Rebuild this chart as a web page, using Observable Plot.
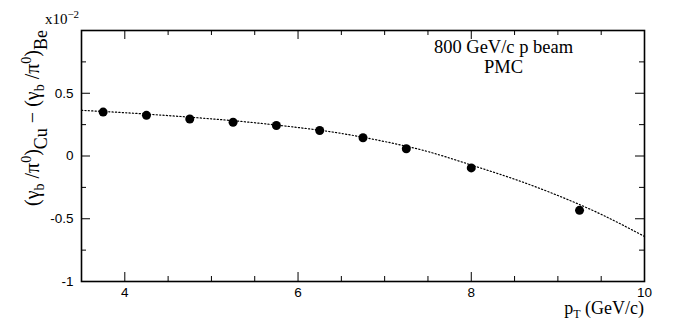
<!DOCTYPE html>
<html>
<head>
<meta charset="utf-8">
<script src="https://cdn.jsdelivr.net/npm/d3@7"></script>
<script src="https://cdn.jsdelivr.net/npm/@observablehq/plot@0.6"></script>
<style>
  html, body { margin: 0; padding: 0; background: #fff; }
  #chart svg { display: block; }
</style>
</head>
<body>
<div id="chart"></div>
<script>
// Data points (pT in GeV/c, difference in units of 1e-2)
const pt = [3.75, 4.25, 4.75, 5.25, 5.75, 6.25, 6.75, 7.25, 8.0, 9.25];
const diff = [0.350, 0.324, 0.295, 0.269, 0.243, 0.203, 0.145, 0.058, -0.095, -0.433];

// Fit curve
const fitPt = [3.5, 4.0, 4.5, 5.0, 5.5, 6.0, 6.5, 7.0, 7.5, 8.0, 8.5, 9.0, 9.5, 10.0];
const fitVal = [0.364, 0.345, 0.322, 0.296, 0.265, 0.227, 0.180, 0.115, 0.035, -0.072, -0.185, -0.315, -0.465, -0.641];

// Axis ticks
const xMajor = [4, 6, 8, 10];
const xMinor = [3.5, 4.5, 5, 5.5, 6.5, 7, 7.5, 8.5, 9, 9.5];
const yMajor = [-1, -0.5, 0, 0.5, 1];
const yMinor = [-0.75, -0.25, 0.25, 0.75];
const yLabels = [-1, -0.5, 0, 0.5];

const W = 673, H = 324;
const mL = 81, mR = 29, mT = 30, mB = 43;
const fw = W - mL - mR, fh = H - mT - mB;

const points = pt.map((x, i) => ({x, y: diff[i]}));
const fit = fitPt.map((x, i) => ({x, y: fitVal[i]}));

const majT = 9, minT = 5;

const chart = Plot.plot({
  width: W, height: H,
  marginLeft: mL, marginRight: mR, marginTop: mT, marginBottom: mB,
  style: {fontFamily: "'Liberation Sans', Arial, sans-serif", fontSize: "13px", color: "black", background: "white"},
  x: {domain: [3.5, 10], axis: null},
  y: {domain: [-1, 1], axis: null},
  marks: [
    Plot.line(fit, {x: "x", y: "y", curve: "natural", stroke: "black", strokeWidth: 1.2, strokeDasharray: "1.2,2.2"}),
    Plot.dot(points, {x: "x", y: "y", r: 4.5, fill: "black", stroke: "none"}),
    // bottom ticks
    Plot.tickX(xMajor, {x: d => d, insetTop: fh - majT, stroke: "black", strokeWidth: 1}),
    Plot.tickX(xMinor, {x: d => d, insetTop: fh - minT, stroke: "black", strokeWidth: 1}),
    // top ticks
    Plot.tickX(xMajor, {x: d => d, insetBottom: fh - majT, stroke: "black", strokeWidth: 1}),
    Plot.tickX(xMinor, {x: d => d, insetBottom: fh - minT, stroke: "black", strokeWidth: 1}),
    // left ticks
    Plot.tickY(yMajor, {y: d => d, insetRight: fw - majT, stroke: "black", strokeWidth: 1}),
    Plot.tickY(yMinor, {y: d => d, insetRight: fw - minT, stroke: "black", strokeWidth: 1}),
    // right ticks
    Plot.tickY(yMajor, {y: d => d, insetLeft: fw - majT, stroke: "black", strokeWidth: 1}),
    Plot.tickY(yMinor, {y: d => d, insetLeft: fw - minT, stroke: "black", strokeWidth: 1}),
    Plot.axisX(xMajor, {tickSize: 0, tickPadding: 6, tickFormat: d => String(d), label: null, fontSize: 13.5}),
    Plot.axisY(yLabels, {tickSize: 0, tickPadding: 8, tickFormat: d => String(d), label: null, fontSize: 13.5}),
    Plot.frame({stroke: "black", strokeWidth: 1.6}),
    Plot.text(["800 GeV/c p beam"], {frameAnchor: "top-right", dx: -(fw - (503 - mL)) , dy: 9, textAnchor: "middle", fontFamily: "'Liberation Serif', 'Times New Roman', serif", fontSize: 18.5}),
    Plot.text(["PMC"], {frameAnchor: "top-right", dx: -(fw - (503 - mL)), dy: 29, textAnchor: "middle", fontFamily: "'Liberation Serif', 'Times New Roman', serif", fontSize: 18.5})
  ]
});

const svg = d3.select(chart);
const serif = "'Liberation Serif', 'Times New Roman', serif";

// x10^-2 multiplier
const mult = svg.append("text")
  .attr("x", 62).attr("y", 24)
  .attr("font-family", serif).attr("font-size", 15).attr("fill", "black");
mult.append("tspan").text("x10");
mult.append("tspan").attr("dy", -6).attr("font-size", 11).text("\u22122");

// x-axis title
const xt = svg.append("text")
  .attr("x", 644).attr("y", 314)
  .attr("text-anchor", "end")
  .attr("font-family", serif).attr("font-size", 18).attr("fill", "black");
xt.append("tspan").text("p");
xt.append("tspan").attr("dy", 4).attr("font-size", 12).text("T");
xt.append("tspan").attr("dy", -4).text(" (GeV/c)");

// y-axis title
const yt = svg.append("text")
  .attr("transform", "translate(39,118) rotate(-90)")
  .attr("text-anchor", "middle")
  .attr("font-family", serif).attr("font-size", 20).attr("fill", "black");
yt.append("tspan").text("(\u03B3");
yt.append("tspan").attr("dy", 5).attr("font-size", 14).text("b");
yt.append("tspan").attr("dy", -5).text(" /\u03C0");
yt.append("tspan").attr("dy", -8).attr("font-size", 14).text("0");
yt.append("tspan").attr("dy", 8).text(")");
yt.append("tspan").attr("dy", 8).attr("font-size", 18).text("Cu");
yt.append("tspan").attr("dy", -8).text(" \u2212 (\u03B3");
yt.append("tspan").attr("dy", 5).attr("font-size", 14).text("b");
yt.append("tspan").attr("dy", -5).text(" /\u03C0");
yt.append("tspan").attr("dy", -8).attr("font-size", 14).text("0");
yt.append("tspan").attr("dy", 8).text(")");
yt.append("tspan").attr("dy", 8).attr("font-size", 18).text("Be");

document.getElementById("chart").appendChild(chart);
</script>
</body>
</html>
